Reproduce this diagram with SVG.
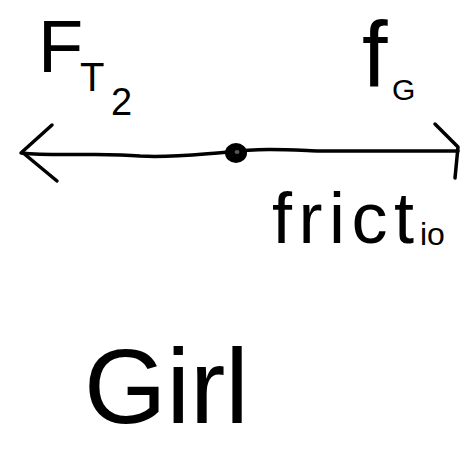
<svg xmlns="http://www.w3.org/2000/svg" width="474" height="454" viewBox="0 0 474 454">
<style>
text{font-family:"Liberation Sans",Arial,sans-serif;fill:#000}
.ink{fill:none;stroke:#000;stroke-width:3.5;stroke-linecap:round;stroke-linejoin:round}
</style>
<rect width="474" height="454" fill="#fff"/>
<g id="connectors">
<path class="ink" d="M21,153 C60,157 100,152 140,156 C170,158 200,154 230,152 C260,148 290,150 320,151 L458,151"/>
<path class="ink" d="M52,125 L22,152 L57,181"/>
<path class="ink" d="M435,124 L458,147 L455,178"/>
</g>
<g id="node-object">
<ellipse cx="236" cy="153" rx="11" ry="10" fill="#000"/>
<ellipse cx="237" cy="152" rx="2.5" ry="2" fill="#555"/>
</g>
<g id="label-FT2">
<text x="38" y="72" font-size="74">F</text>
<text x="80" y="91" font-size="40">T</text>
<text x="111" y="115" font-size="38">2</text>
</g>
<g id="label-fG">
<text x="362" y="86" font-size="92">f</text>
<text x="392" y="100" font-size="30">G</text>
</g>
<g id="label-friction">
<text x="272" y="243" font-size="72" textLength="142" lengthAdjust="spacing">frict</text>
<text x="420" y="245" font-size="32">io</text>
</g>
<g id="label-girl">
<text x="84" y="423" font-size="106">Girl</text>
</g>
</svg>
